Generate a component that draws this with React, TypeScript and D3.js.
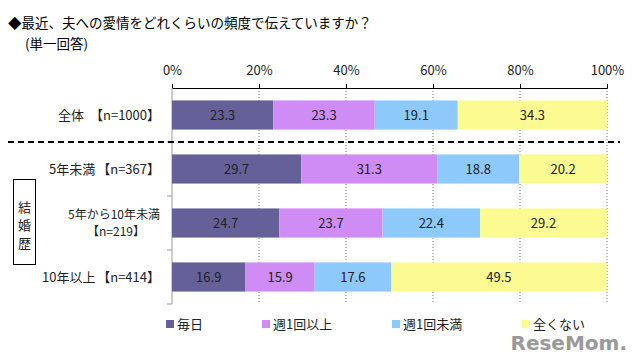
import React, { useEffect, useRef } from 'react';
import * as d3 from 'd3';

const categories = ['全体', '5年未満', '5年から10年未満', '10年以上'];
const sampleSizes = ['【n=1000】', '【n=367】', '【n=219】', '【n=414】'];
const seriesNames = ['毎日', '週1回以上', '週1回未満', '全くない'];
const daily = [23.3, 29.7, 24.7, 16.9];
const weekly = [23.3, 31.3, 23.7, 15.9];
const lessThanWeekly = [19.1, 18.8, 22.4, 17.6];
const never = [34.3, 20.2, 29.2, 49.5];
const tickValues = [0, 20, 40, 60, 80, 100];

const colors = ['#666098', '#d08cf5', '#8ec9fb', '#fbfb92'];
const fontFamily = '"Noto Sans CJK JP", "Noto Sans", sans-serif';

const App = () => {
    const ref = useRef(null);

    useEffect(() => {
        const svg = d3.select(ref.current);
        svg.selectAll('*').remove();

        const width = 640, height = 361;
        const left = 172, right = 607, top = 88, bottom = 304;

        svg.append('rect').attr('width', width).attr('height', height).attr('fill', '#fff');

        const x = d3.scaleLinear().domain([0, 100]).range([left, right]);
        const y = d3.scaleBand().domain(categories).range([top, bottom]).paddingInner(0.46).paddingOuter(0.23);

        // title
        svg.append('text')
            .attr('x', 8).attr('y', 28)
            .style('font-size', '13.5px').style('font-family', fontFamily)
            .text('◆最近、夫への愛情をどれくらいの頻度で伝えていますか？');
        svg.append('text')
            .attr('x', 25).attr('y', 49)
            .style('font-size', '13.5px').style('font-family', fontFamily)
            .text('(単一回答)');

        // dotted gridlines
        svg.append('g').selectAll('line')
            .data(tickValues.slice(1))
            .enter().append('line')
            .attr('x1', d => x(d)).attr('x2', d => x(d))
            .attr('y1', top).attr('y2', bottom)
            .attr('stroke', '#777').attr('stroke-width', 1)
            .attr('stroke-dasharray', '1,2');

        // top axis
        const axis = svg.append('g')
            .attr('transform', `translate(0,${top})`)
            .call(d3.axisTop(x).tickValues(tickValues).tickSize(4).tickFormat(d => `${d}%`));
        axis.select('.domain').attr('stroke', '#000');
        axis.selectAll('.tick line').attr('stroke', '#000');
        axis.selectAll('text')
            .attr('y', -13)
            .style('font-size', '13px').style('font-family', fontFamily).attr('fill', '#222');

        // left axis line with category boundaries
        svg.append('line')
            .attr('x1', left).attr('x2', left).attr('y1', top).attr('y2', bottom)
            .attr('stroke', '#999');
        const step = y.step();
        [1, 2, 3, 4].forEach(i => {
            svg.append('line')
                .attr('x1', left - 5).attr('x2', left)
                .attr('y1', top + step * i).attr('y2', top + step * i)
                .attr('stroke', '#999');
        });

        // stacked bars
        const rows = categories.map((c, i) => ({ category: c, values: [daily[i], weekly[i], lessThanWeekly[i], never[i]] }));
        rows.forEach(row => {
            let acc = 0;
            row.values.forEach((v, j) => {
                const x0 = x(acc);
                const x1 = x(acc + v);
                svg.append('rect')
                    .attr('x', x0).attr('y', y(row.category))
                    .attr('width', x1 - x0).attr('height', y.bandwidth())
                    .attr('fill', colors[j]);
                svg.append('text')
                    .attr('x', (x0 + x1) / 2)
                    .attr('y', y(row.category) + y.bandwidth() / 2)
                    .attr('dy', '.35em')
                    .attr('text-anchor', 'middle')
                    .style('font-size', '13px').style('font-family', fontFamily).attr('fill', '#222')
                    .text(v.toFixed(1));
                acc += v;
            });
        });

        // category labels
        categories.forEach((c, i) => {
            const cy = y(c) + y.bandwidth() / 2;
            if (i === 2) {
                svg.append('text').attr('x', 160).attr('y', cy - 8).attr('dy', '.35em')
                    .attr('text-anchor', 'end')
                    .style('font-size', '12px').style('font-family', fontFamily).attr('fill', '#222')
                    .text(c);
                svg.append('text').attr('x', 87).attr('y', cy + 9).attr('dy', '.35em')
                    .style('font-size', '12px').style('font-family', fontFamily).attr('fill', '#222')
                    .text(sampleSizes[i]);
            } else {
                svg.append('text').attr('x', 160).attr('y', cy).attr('dy', '.35em')
                    .attr('text-anchor', 'end')
                    .style('font-size', '13px').style('font-family', fontFamily).attr('fill', '#222')
                    .text(sampleSizes[i]);
                svg.append('text').attr('x', i === 0 ? 58 : i === 3 ? 42 : 49).attr('y', cy).attr('dy', '.35em')
                    .style('font-size', '13px').style('font-family', fontFamily).attr('fill', '#222')
                    .text(c);
            }
        });

        // dashed separator
        svg.append('line')
            .attr('x1', 8).attr('x2', 620)
            .attr('y1', top + step).attr('y2', top + step)
            .attr('stroke', '#000').attr('stroke-width', 2)
            .attr('stroke-dasharray', '6,4');

        // 結婚歴 box
        svg.append('rect')
            .attr('x', 13.5).attr('y', 179.5).attr('width', 22).attr('height', 85)
            .attr('fill', '#fff').attr('stroke', '#000');
        ['結', '婚', '歴'].forEach((ch, i) => {
            svg.append('text')
                .attr('x', 24.5).attr('y', 207 + i * 18).attr('dy', '.35em')
                .attr('text-anchor', 'middle')
                .style('font-size', '13px').style('font-family', fontFamily).attr('fill', '#222')
                .text(ch);
        });

        // legend
        const legendX = [166, 262, 392, 522];
        seriesNames.forEach((name, i) => {
            svg.append('rect')
                .attr('x', legendX[i]).attr('y', 320).attr('width', 8).attr('height', 8)
                .attr('fill', colors[i]);
            svg.append('text')
                .attr('x', legendX[i] + 11).attr('y', 324).attr('dy', '.35em')
                .style('font-size', '13px').style('font-family', fontFamily).attr('fill', '#222')
                .text(name);
        });

        // watermark
        svg.append('text')
            .attr('x', 627).attr('y', 350)
            .attr('text-anchor', 'end')
            .style('font-size', '20px').style('font-weight', 'bold').style('font-family', '"DejaVu Sans", sans-serif')
            .attr('fill', '#888').attr('opacity', 0.85)
            .text('ReseMom.');
    }, []);

    return (
        <div style={{ margin: -8 }}>
            <svg ref={ref} width={640} height={361} style={{ display: 'block' }} />
        </div>
    );
};

export default App;
